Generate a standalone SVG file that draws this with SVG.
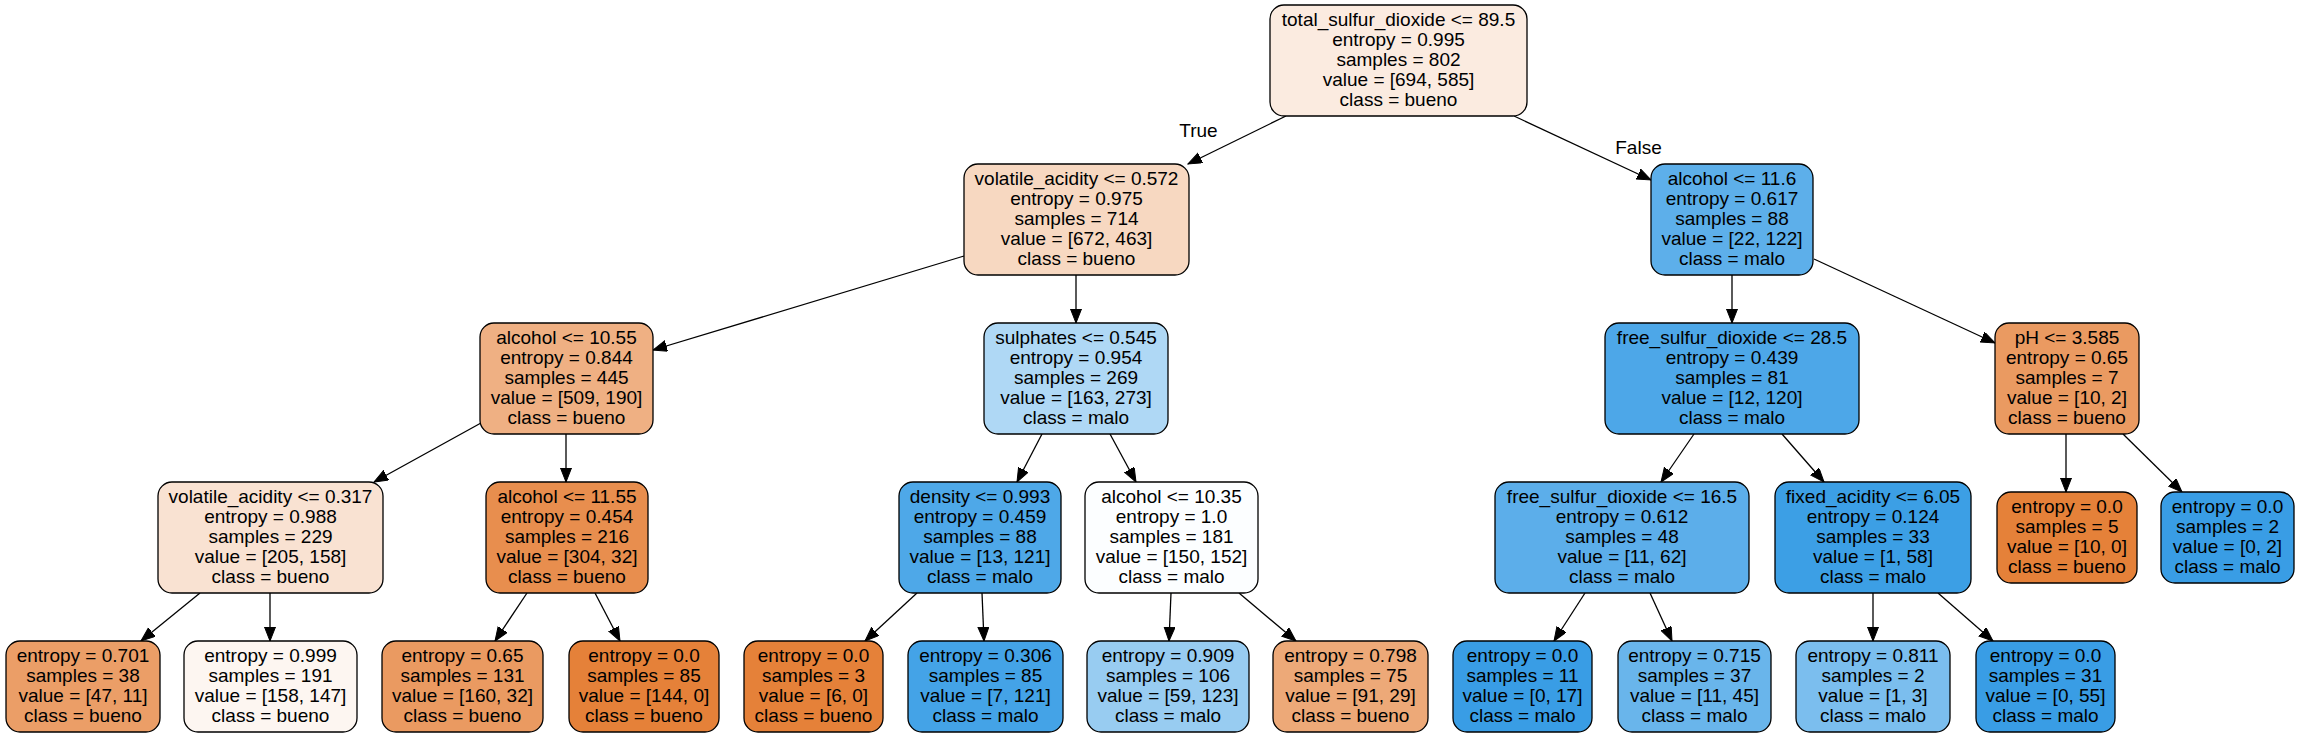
<svg xmlns="http://www.w3.org/2000/svg" width="2300" height="736" viewBox="0 0 2300 736">
<style>
.n rect{stroke:#000;stroke-width:1.3}
text{font-family:"Liberation Sans",Arial,sans-serif;font-size:19px;text-anchor:middle;fill:#000}
.e path{fill:none;stroke:#000;stroke-width:1.3;marker-end:url(#ah)}
</style>
<defs>
<marker id="ah" markerUnits="userSpaceOnUse" markerWidth="15" markerHeight="12" refX="14" refY="5.5" orient="auto" viewBox="0 0 15 12">
<path d="M0,0 L14,5.5 L0,11 z" fill="#000" stroke="#000" stroke-width="1"/>
</marker>
</defs>
<rect width="2300" height="736" fill="#fff"/>
<g id="connectors" class="e">
<path d="M1286,116 L1188,164"/>
<path d="M1514,116 L1651,180"/>
<path d="M964,256 L653,350"/>
<path d="M1076,275 L1076,323"/>
<path d="M481,423 L374,482"/>
<path d="M566,434 L566,482"/>
<path d="M200,593 L141,641"/>
<path d="M270,593 L270,641"/>
<path d="M527,593 L495,641"/>
<path d="M595,593 L620,641"/>
<path d="M1042,434 L1017,482"/>
<path d="M1110,434 L1136,482"/>
<path d="M917,593 L865,641"/>
<path d="M982,593 L984,641"/>
<path d="M1171,593 L1169,641"/>
<path d="M1239,593 L1296,641"/>
<path d="M1732,275 L1732,323"/>
<path d="M1814,259 L1995,343"/>
<path d="M1694,434 L1661,482"/>
<path d="M1782,434 L1824,482"/>
<path d="M1585,593 L1554,641"/>
<path d="M1650,593 L1672,641"/>
<path d="M1873,593 L1873,641"/>
<path d="M1938,593 L1993,641"/>
<path d="M2066,434 L2066,492"/>
<path d="M2123,434 L2182,492"/>
<text x="1198.5" y="136.5">True</text>
<text x="1638.5" y="154">False</text>
</g>
<g id="n0" class="n"><rect x="1270" y="5" width="257" height="111" rx="14" fill="#fbebe0"/>
<text x="1398.5" y="25.5">total_sulfur_dioxide &lt;= 89.5</text><text x="1398.5" y="45.5">entropy = 0.995</text><text x="1398.5" y="65.5">samples = 802</text><text x="1398.5" y="85.5">value = [694, 585]</text><text x="1398.5" y="105.5">class = bueno</text></g>
<g id="n1" class="n"><rect x="964" y="164" width="225" height="111" rx="14" fill="#f7d8c1"/>
<text x="1076.5" y="184.5">volatile_acidity &lt;= 0.572</text><text x="1076.5" y="204.5">entropy = 0.975</text><text x="1076.5" y="224.5">samples = 714</text><text x="1076.5" y="244.5">value = [672, 463]</text><text x="1076.5" y="264.5">class = bueno</text></g>
<g id="n2" class="n"><rect x="480" y="323" width="173" height="111" rx="14" fill="#efb083"/>
<text x="566.5" y="343.5">alcohol &lt;= 10.55</text><text x="566.5" y="363.5">entropy = 0.844</text><text x="566.5" y="383.5">samples = 445</text><text x="566.5" y="403.5">value = [509, 190]</text><text x="566.5" y="423.5">class = bueno</text></g>
<g id="n3" class="n"><rect x="158" y="482" width="225" height="111" rx="14" fill="#f9e2d2"/>
<text x="270.5" y="502.5">volatile_acidity &lt;= 0.317</text><text x="270.5" y="522.5">entropy = 0.988</text><text x="270.5" y="542.5">samples = 229</text><text x="270.5" y="562.5">value = [205, 158]</text><text x="270.5" y="582.5">class = bueno</text></g>
<g id="n4" class="n"><rect x="6" y="641" width="154" height="91" rx="14" fill="#eb9e67"/>
<text x="83" y="661.5">entropy = 0.701</text><text x="83" y="681.5">samples = 38</text><text x="83" y="701.5">value = [47, 11]</text><text x="83" y="721.5">class = bueno</text></g>
<g id="n5" class="n"><rect x="184" y="641" width="173" height="91" rx="14" fill="#fdf6f1"/>
<text x="270.5" y="661.5">entropy = 0.999</text><text x="270.5" y="681.5">samples = 191</text><text x="270.5" y="701.5">value = [158, 147]</text><text x="270.5" y="721.5">class = bueno</text></g>
<g id="n6" class="n"><rect x="486" y="482" width="162" height="111" rx="14" fill="#e88e4e"/>
<text x="567" y="502.5">alcohol &lt;= 11.55</text><text x="567" y="522.5">entropy = 0.454</text><text x="567" y="542.5">samples = 216</text><text x="567" y="562.5">value = [304, 32]</text><text x="567" y="582.5">class = bueno</text></g>
<g id="n7" class="n"><rect x="382" y="641" width="161" height="91" rx="14" fill="#ea9a61"/>
<text x="462.5" y="661.5">entropy = 0.65</text><text x="462.5" y="681.5">samples = 131</text><text x="462.5" y="701.5">value = [160, 32]</text><text x="462.5" y="721.5">class = bueno</text></g>
<g id="n8" class="n"><rect x="569" y="641" width="150" height="91" rx="14" fill="#e58139"/>
<text x="644" y="661.5">entropy = 0.0</text><text x="644" y="681.5">samples = 85</text><text x="644" y="701.5">value = [144, 0]</text><text x="644" y="721.5">class = bueno</text></g>
<g id="n9" class="n"><rect x="984" y="323" width="184" height="111" rx="14" fill="#afd8f5"/>
<text x="1076" y="343.5">sulphates &lt;= 0.545</text><text x="1076" y="363.5">entropy = 0.954</text><text x="1076" y="383.5">samples = 269</text><text x="1076" y="403.5">value = [163, 273]</text><text x="1076" y="423.5">class = malo</text></g>
<g id="n10" class="n"><rect x="899" y="482" width="162" height="111" rx="14" fill="#4ea8e8"/>
<text x="980" y="502.5">density &lt;= 0.993</text><text x="980" y="522.5">entropy = 0.459</text><text x="980" y="542.5">samples = 88</text><text x="980" y="562.5">value = [13, 121]</text><text x="980" y="582.5">class = malo</text></g>
<g id="n11" class="n"><rect x="744" y="641" width="139" height="91" rx="14" fill="#e58139"/>
<text x="813.5" y="661.5">entropy = 0.0</text><text x="813.5" y="681.5">samples = 3</text><text x="813.5" y="701.5">value = [6, 0]</text><text x="813.5" y="721.5">class = bueno</text></g>
<g id="n12" class="n"><rect x="908" y="641" width="155" height="91" rx="14" fill="#44a3e7"/>
<text x="985.5" y="661.5">entropy = 0.306</text><text x="985.5" y="681.5">samples = 85</text><text x="985.5" y="701.5">value = [7, 121]</text><text x="985.5" y="721.5">class = malo</text></g>
<g id="n13" class="n"><rect x="1085" y="482" width="173" height="111" rx="14" fill="#fcfeff"/>
<text x="1171.5" y="502.5">alcohol &lt;= 10.35</text><text x="1171.5" y="522.5">entropy = 1.0</text><text x="1171.5" y="542.5">samples = 181</text><text x="1171.5" y="562.5">value = [150, 152]</text><text x="1171.5" y="582.5">class = malo</text></g>
<g id="n14" class="n"><rect x="1087" y="641" width="162" height="91" rx="14" fill="#98ccf1"/>
<text x="1168" y="661.5">entropy = 0.909</text><text x="1168" y="681.5">samples = 106</text><text x="1168" y="701.5">value = [59, 123]</text><text x="1168" y="721.5">class = malo</text></g>
<g id="n15" class="n"><rect x="1273" y="641" width="155" height="91" rx="14" fill="#eda978"/>
<text x="1350.5" y="661.5">entropy = 0.798</text><text x="1350.5" y="681.5">samples = 75</text><text x="1350.5" y="701.5">value = [91, 29]</text><text x="1350.5" y="721.5">class = bueno</text></g>
<g id="n16" class="n"><rect x="1651" y="164" width="162" height="111" rx="14" fill="#5dafea"/>
<text x="1732" y="184.5">alcohol &lt;= 11.6</text><text x="1732" y="204.5">entropy = 0.617</text><text x="1732" y="224.5">samples = 88</text><text x="1732" y="244.5">value = [22, 122]</text><text x="1732" y="264.5">class = malo</text></g>
<g id="n17" class="n"><rect x="1605" y="323" width="254" height="111" rx="14" fill="#4da7e8"/>
<text x="1732" y="343.5">free_sulfur_dioxide &lt;= 28.5</text><text x="1732" y="363.5">entropy = 0.439</text><text x="1732" y="383.5">samples = 81</text><text x="1732" y="403.5">value = [12, 120]</text><text x="1732" y="423.5">class = malo</text></g>
<g id="n18" class="n"><rect x="1495" y="482" width="254" height="111" rx="14" fill="#5caeea"/>
<text x="1622" y="502.5">free_sulfur_dioxide &lt;= 16.5</text><text x="1622" y="522.5">entropy = 0.612</text><text x="1622" y="542.5">samples = 48</text><text x="1622" y="562.5">value = [11, 62]</text><text x="1622" y="582.5">class = malo</text></g>
<g id="n19" class="n"><rect x="1453" y="641" width="139" height="91" rx="14" fill="#399de5"/>
<text x="1522.5" y="661.5">entropy = 0.0</text><text x="1522.5" y="681.5">samples = 11</text><text x="1522.5" y="701.5">value = [0, 17]</text><text x="1522.5" y="721.5">class = malo</text></g>
<g id="n20" class="n"><rect x="1618" y="641" width="153" height="91" rx="14" fill="#69b5eb"/>
<text x="1694.5" y="661.5">entropy = 0.715</text><text x="1694.5" y="681.5">samples = 37</text><text x="1694.5" y="701.5">value = [11, 45]</text><text x="1694.5" y="721.5">class = malo</text></g>
<g id="n21" class="n"><rect x="1775" y="482" width="196" height="111" rx="14" fill="#3c9fe5"/>
<text x="1873" y="502.5">fixed_acidity &lt;= 6.05</text><text x="1873" y="522.5">entropy = 0.124</text><text x="1873" y="542.5">samples = 33</text><text x="1873" y="562.5">value = [1, 58]</text><text x="1873" y="582.5">class = malo</text></g>
<g id="n22" class="n"><rect x="1796" y="641" width="154" height="91" rx="14" fill="#7bbeee"/>
<text x="1873" y="661.5">entropy = 0.811</text><text x="1873" y="681.5">samples = 2</text><text x="1873" y="701.5">value = [1, 3]</text><text x="1873" y="721.5">class = malo</text></g>
<g id="n23" class="n"><rect x="1976" y="641" width="139" height="91" rx="14" fill="#399de5"/>
<text x="2045.5" y="661.5">entropy = 0.0</text><text x="2045.5" y="681.5">samples = 31</text><text x="2045.5" y="701.5">value = [0, 55]</text><text x="2045.5" y="721.5">class = malo</text></g>
<g id="n24" class="n"><rect x="1995" y="323" width="144" height="111" rx="14" fill="#ea9a61"/>
<text x="2067" y="343.5">pH &lt;= 3.585</text><text x="2067" y="363.5">entropy = 0.65</text><text x="2067" y="383.5">samples = 7</text><text x="2067" y="403.5">value = [10, 2]</text><text x="2067" y="423.5">class = bueno</text></g>
<g id="n25" class="n"><rect x="1997" y="492" width="140" height="91" rx="14" fill="#e58139"/>
<text x="2067" y="512.5">entropy = 0.0</text><text x="2067" y="532.5">samples = 5</text><text x="2067" y="552.5">value = [10, 0]</text><text x="2067" y="572.5">class = bueno</text></g>
<g id="n26" class="n"><rect x="2161" y="492" width="133" height="91" rx="14" fill="#399de5"/>
<text x="2227.5" y="512.5">entropy = 0.0</text><text x="2227.5" y="532.5">samples = 2</text><text x="2227.5" y="552.5">value = [0, 2]</text><text x="2227.5" y="572.5">class = malo</text></g>
</svg>
